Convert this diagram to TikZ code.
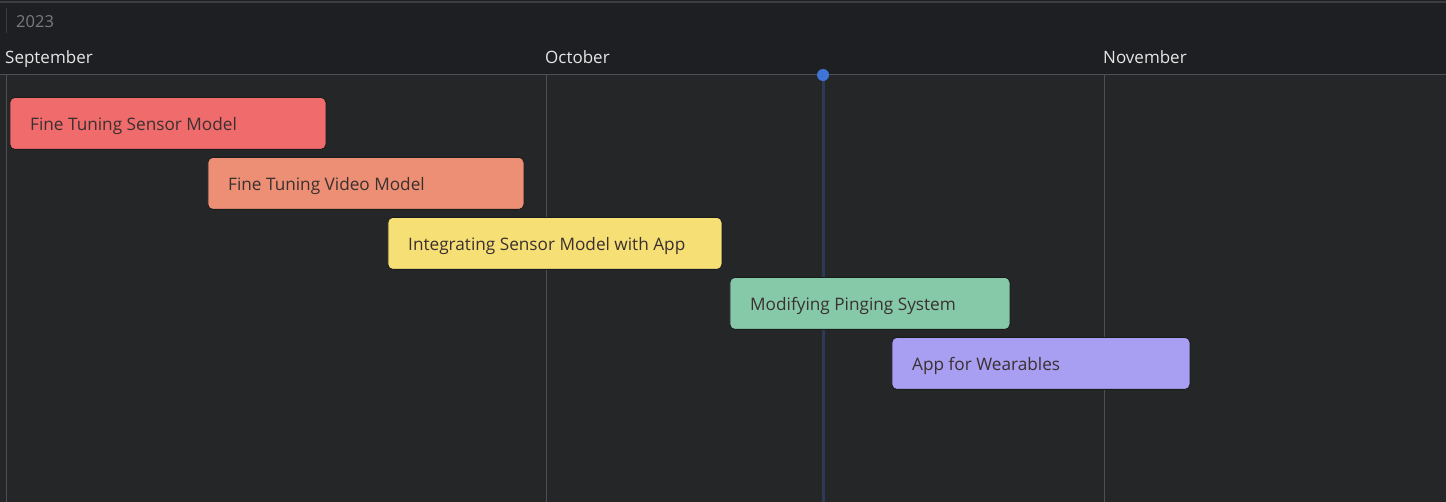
\documentclass[tikz,border=0pt]{standalone}
\usepackage{fontspec}
\setmainfont{Open Sans}
\definecolor{hdrbg}{HTML}{1E1F22}
\definecolor{bodybg}{HTML}{252628}
\definecolor{gridln}{HTML}{4E4F52}
\definecolor{topln}{HTML}{3C3D40}
\definecolor{yeartx}{HTML}{7A7B7E}
\definecolor{monthtx}{HTML}{E6E6E6}
\definecolor{todayln}{HTML}{2C3A55}
\definecolor{todaydot}{HTML}{3F73D6}
\definecolor{barA}{HTML}{F06B6C}
\definecolor{barB}{HTML}{EC8F74}
\definecolor{barC}{HTML}{F6DF74}
\definecolor{barD}{HTML}{86C9A8}
\definecolor{barE}{HTML}{A89EF2}
\definecolor{bartx}{HTML}{3A3030}
\definecolor{barbd}{HTML}{1A1B1D}
\begin{document}
\begin{tikzpicture}[x=1pt,y=-1pt,
  month/.style={anchor=base west,text=monthtx,font=\fontsize{17}{20}\selectfont,inner sep=0pt},
  gridline/.style={draw=gridln,line width=1pt},
  task/.style={draw=barbd,line width=0.8pt,rounded corners=5pt,minimum height=52pt,anchor=north west,inner sep=0pt},
  tasklabel/.style={anchor=base west,text=bartx,font=\fontsize{17.2}{20}\selectfont,inner sep=0pt}]
\useasboundingbox (0,0) rectangle (1446,502);
\fill[hdrbg] (0,0) rectangle (1446,75);
\fill[bodybg] (0,75) rectangle (1446,502);
\draw[topln,line width=1.5pt] (0,2) -- (1446,2);
\draw[topln,line width=1pt] (6,8) -- (6,33);
\node[anchor=base west,text=yeartx,font=\fontsize{16.5}{19}\selectfont,inner sep=0pt] (yr) at (16,28) {2023};
\node[month] (sep) at (5,64) {September};
\node[month] (oct) at (545,64) {October};
\node[month] (nov) at (1103,64) {November};
\draw[gridline] (0,75) -- (1446,75);
\coordinate (s1) at (6,75); \coordinate (s2) at (6,502);
\coordinate (o1) at (546,75); \coordinate (o2) at (546,502);
\coordinate (n1) at (1104,75); \coordinate (n2) at (1104,502);
\draw[gridline] (s1) -- (s2);
\draw[gridline] (o1) -- (o2);
\draw[gridline] (n1) -- (n2);
\coordinate (t1) at (823,75); \coordinate (t2) at (823,502);
\draw[todayln,line width=3pt] (t1) -- (t2);
\fill[todaydot] (t1) circle (6pt);
\node[task,fill=barA,minimum width=316pt] (ta) at (9.5,97) {};
\node[tasklabel] (la) at (30,131) {Fine Tuning Sensor Model};
\node[task,fill=barB,minimum width=316pt] (tb) at (207.5,157) {};
\node[tasklabel] (lb) at (228,191) {Fine Tuning Video Model};
\node[task,fill=barC,minimum width=334pt] (tc) at (387.5,217) {};
\node[tasklabel] (lc) at (408,251) {Integrating Sensor Model with App};
\node[task,fill=barD,minimum width=280pt] (td) at (729.5,277) {};
\node[tasklabel] (ld) at (750,311) {Modifying Pinging System};
\node[task,fill=barE,minimum width=298pt] (te) at (891.5,337) {};
\node[tasklabel] (le) at (912,371) {App for Wearables};
\end{tikzpicture}
\end{document}
